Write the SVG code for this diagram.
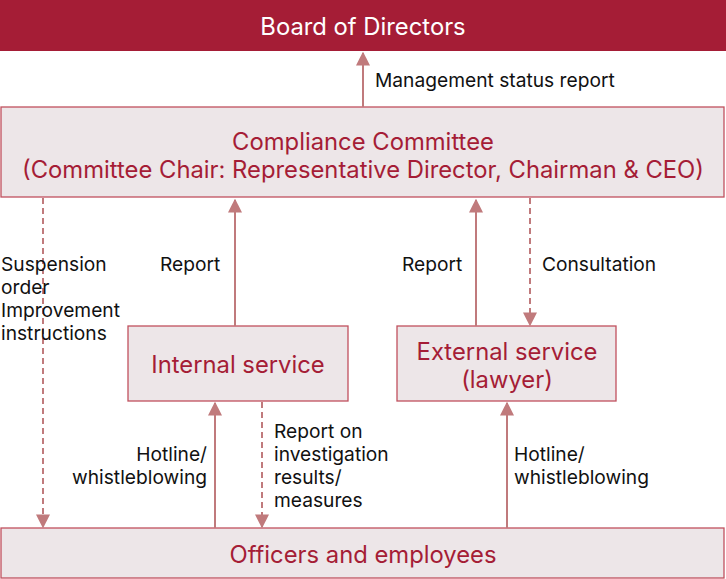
<svg xmlns="http://www.w3.org/2000/svg" width="726" height="579" viewBox="0 0 726 579">
<style>
text{font-family:"Inter","Liberation Sans",sans-serif}
.box{fill:#ede6e8;stroke:#c0515e;stroke-width:1.3}
.t{font-size:23.8px;fill:#a51d36;text-anchor:middle}
.l{font-size:19.2px;fill:#111}
.a{stroke:#c07a7c;stroke-width:2;fill:none}
.d{stroke:#c07a7c;stroke-width:2;fill:none;stroke-dasharray:6 4}
</style>
<defs><marker id="ah" viewBox="0 0 10 10" refX="9" refY="5" markerWidth="7" markerHeight="7" orient="auto"><path d="M0,0L10,5L0,10z" fill="#c07a7c"/></marker></defs>
<g id="board"><rect x="0" y="0" width="726" height="51" fill="#a51d36"/><text x="363" y="35" class="t" style="fill:#fff">Board of Directors</text></g>
<g id="compliance"><rect class="box" x="1" y="107" width="723" height="90"/><text x="363" y="150" class="t">Compliance Committee</text><text x="363" y="178" class="t">(Committee Chair: Representative Director, Chairman &amp; CEO)</text></g>
<g id="internal"><rect class="box" x="128" y="326" width="220" height="75"/><text x="238" y="373" class="t">Internal service</text></g>
<g id="external"><rect class="box" x="397" y="326" width="219" height="75"/><text x="507" y="360" class="t">External service</text><text x="507" y="388" class="t">(lawyer)</text></g>
<g id="officers"><rect class="box" x="1" y="528" width="723" height="50"/><text x="363" y="563" class="t">Officers and employees</text></g>
<g id="connectors">
<line class="a" x1="363" y1="107" x2="363" y2="53" marker-end="url(#ah)"/>
<line class="a" x1="235" y1="326" x2="235" y2="200" marker-end="url(#ah)"/>
<line class="a" x1="476" y1="326" x2="476" y2="200" marker-end="url(#ah)"/>
<line class="d" x1="530" y1="198" x2="530" y2="325" marker-end="url(#ah)"/>
<line class="d" x1="43" y1="198" x2="43" y2="527" marker-end="url(#ah)"/>
<line class="a" x1="215" y1="528" x2="215" y2="403" marker-end="url(#ah)"/>
<line class="d" x1="262" y1="402" x2="262" y2="527" marker-end="url(#ah)"/>
<line class="a" x1="507" y1="528" x2="507" y2="403" marker-end="url(#ah)"/>
</g>
<g id="labels">
<text class="l" x="375" y="87">Management status report</text>
<text class="l" x="160" y="271">Report</text>
<text class="l" x="402" y="271">Report</text>
<text class="l" x="542" y="271">Consultation</text>
<text class="l" x="1" y="271">Suspension</text>
<text class="l" x="1" y="294">order</text>
<text class="l" x="1" y="317">Improvement</text>
<text class="l" x="1" y="340">instructions</text>
<text class="l" x="207" y="461" text-anchor="end">Hotline/</text>
<text class="l" x="207" y="484" text-anchor="end">whistleblowing</text>
<text class="l" x="274" y="438">Report on</text>
<text class="l" x="274" y="461">investigation</text>
<text class="l" x="274" y="484">results/</text>
<text class="l" x="274" y="507">measures</text>
<text class="l" x="514" y="461">Hotline/</text>
<text class="l" x="514" y="484">whistleblowing</text>
</g>
</svg>
